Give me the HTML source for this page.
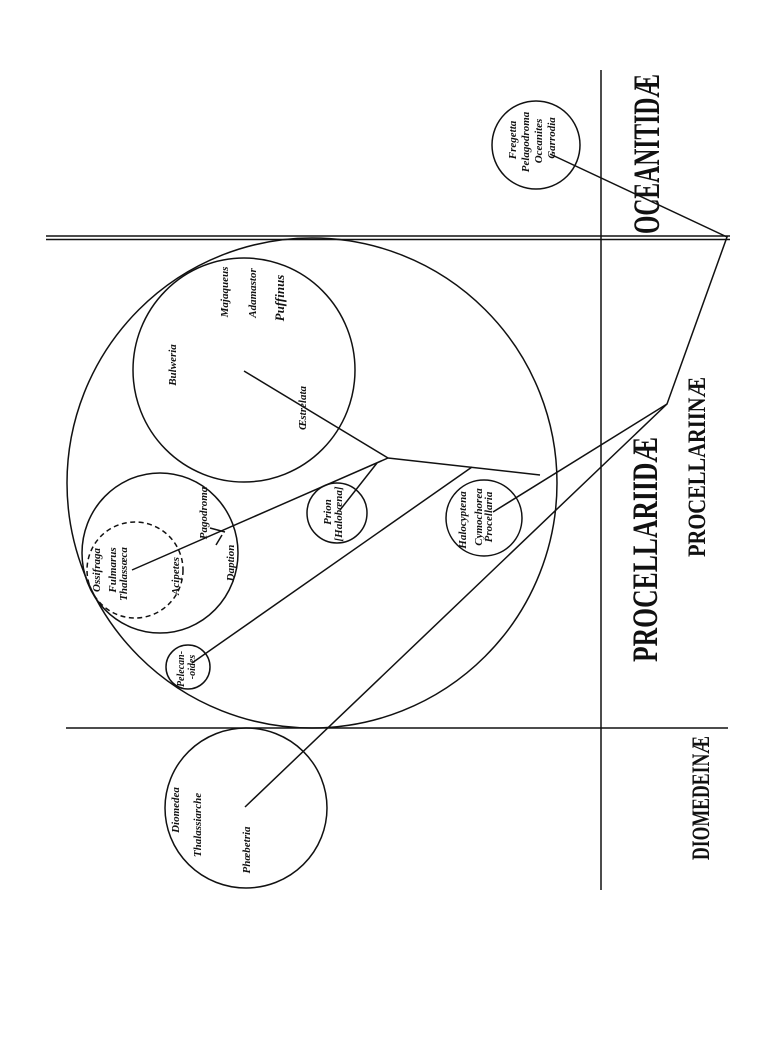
<!DOCTYPE html>
<html><head><meta charset="utf-8"><style>
html,body{margin:0;padding:0;background:#fff;}
svg{display:block;}
.l{font-family:"Liberation Serif",serif;font-style:italic;font-weight:bold;font-size:11px;fill:#111;}
.b{font-family:"Liberation Serif",serif;font-weight:bold;fill:#111;}
</style></head><body>
<svg width="776" height="1050" viewBox="0 0 776 1050" xmlns="http://www.w3.org/2000/svg">
<g stroke="#111" fill="none" stroke-width="1.5">
<line x1="601" y1="70" x2="601" y2="890"/>
<line x1="46" y1="236" x2="730" y2="236"/>
<line x1="46" y1="239.5" x2="730" y2="239.5"/>
<line x1="66" y1="728" x2="728" y2="728"/>
<ellipse cx="312" cy="483" rx="245" ry="245"/>
<ellipse cx="244" cy="370" rx="111" ry="112"/>
<ellipse cx="160" cy="553" rx="78" ry="80"/>
<circle cx="135" cy="570" r="48" stroke-dasharray="5,3.5"/>
<circle cx="337" cy="513" r="30"/>
<circle cx="484" cy="518" r="38"/>
<circle cx="188" cy="667" r="22"/>
<ellipse cx="246" cy="808" rx="81" ry="80"/>
<circle cx="536" cy="145" r="44"/>
<polyline points="550,154 727,237 667,404 245,807"/>
<line x1="667" y1="404" x2="493" y2="512"/>
<line x1="244" y1="371" x2="388" y2="458"/>
<line x1="388" y1="458" x2="540" y2="475"/>
<line x1="472" y1="467" x2="192" y2="663"/>
<line x1="132" y1="570" x2="388" y2="458"/>
<line x1="340" y1="510" x2="377" y2="463"/>
<line x1="210" y1="528" x2="225" y2="532"/>
<line x1="222" y1="535" x2="216" y2="545"/>
</g>
<g class="b">
<text transform="translate(659,234) rotate(-90)" font-size="37" textLength="160" lengthAdjust="spacingAndGlyphs">OCEANITIDÆ</text>
<text transform="translate(657,662) rotate(-90)" font-size="36" textLength="225" lengthAdjust="spacingAndGlyphs">PROCELLARIIDÆ</text>
<text transform="translate(705,557) rotate(-90)" font-size="25" textLength="180" lengthAdjust="spacingAndGlyphs">PROCELLARIINÆ</text>
<text transform="translate(709,860) rotate(-90)" font-size="25" textLength="124" lengthAdjust="spacingAndGlyphs">DIOMEDEINÆ</text>
</g>
<g class="l" text-anchor="middle">
<text transform="translate(516,140) rotate(-90)">Fregetta</text>
<text transform="translate(529,142) rotate(-90)">Pelagodroma</text>
<text transform="translate(542,141) rotate(-90)">Oceanites</text>
<text transform="translate(555,138) rotate(-90)">Garrodia</text>
<text transform="translate(228,292) rotate(-90)">Majaqueus</text>
<text transform="translate(256,293) rotate(-90)">Adamastor</text>
<text transform="translate(284,298) rotate(-90)" font-size="13">Puffinus</text>
<text transform="translate(176,365) rotate(-90)">Bulweria</text>
<text transform="translate(306,408) rotate(-90)">Œstrelata</text>
<text transform="translate(100,570) rotate(-90)">Ossifraga</text>
<text transform="translate(116,570) rotate(-90)">Fulmarus</text>
<text transform="translate(127,574) rotate(-90)">Thalassœca</text>
<text transform="translate(179,576) rotate(-90)">Acipetes</text>
<text transform="translate(207,513) rotate(-90)">Pagodroma</text>
<text transform="translate(234,563) rotate(-90)">Daption</text>
<text transform="translate(331,512) rotate(-90)">Prion</text>
<text transform="translate(342,514) rotate(-90)">[Halobæna]</text>
<text transform="translate(184,669) rotate(-90)" font-size="10">Pelecan-</text>
<text transform="translate(195,667) rotate(-90)" font-size="10">-oides</text>
<text transform="translate(466,520) rotate(-90)">Halocyptena</text>
<text transform="translate(482,517) rotate(-90)">Cymochorea</text>
<text transform="translate(492,517) rotate(-90)">Procellaria</text>
<text transform="translate(179,810) rotate(-90)">Diomedea</text>
<text transform="translate(201,825) rotate(-90)">Thalassiarche</text>
<text transform="translate(250,850) rotate(-90)">Phœbetria</text>
</g>
</svg>
</body></html>
